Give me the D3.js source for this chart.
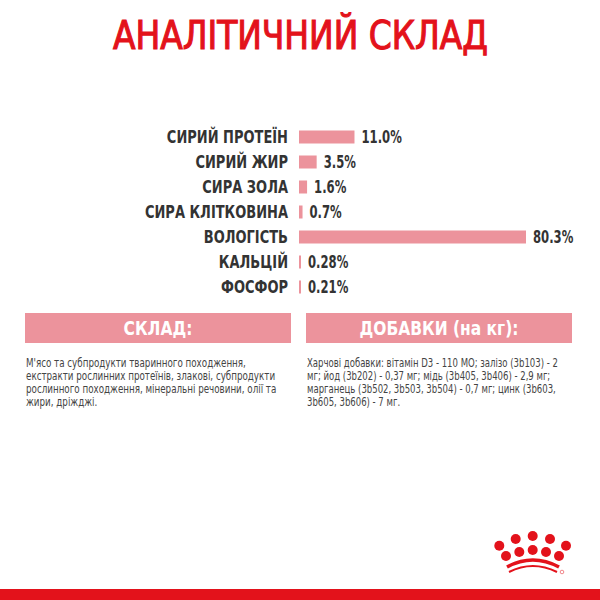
<!DOCTYPE html>
<html>
<head>
<meta charset="utf-8">
<script src="https://cdn.jsdelivr.net/npm/d3@7"></script>
<style>
  body { margin: 0; background: #fff; }
  svg { display: block; }
  .cond { font-family: "Liberation Sans Narrow", "DejaVu Sans Condensed", sans-serif; font-stretch: condensed; }
</style>
</head>
<body>
<div id="chart"></div>
<script>
// analysis values (%)
const categories = ["СИРИЙ ПРОТЕЇН", "СИРИЙ ЖИР", "СИРА ЗОЛА", "СИРА КЛІТКОВИНА", "ВОЛОГІСТЬ", "КАЛЬЦІЙ", "ФОСФОР"]
const values = [11.0, 3.5, 1.6, 0.7, 80.3, 0.28, 0.21]
const valueLabels = ["11.0%", "3.5%", "1.6%", "0.7%", "80.3%", "0.28%", "0.21%"]

const title = "АНАЛІТИЧНИЙ СКЛАД"
const boxTitles = ["СКЛАД:", "ДОБАВКИ (на кг):"]
const compositionLines = [
  "М'ясо та субпродукти тваринного походження,",
  "екстракти рослинних протеїнів, злакові, субпродукти",
  "рослинного походження, мінеральні речовини, олії та",
  "жири, дріжджі."
]
const additivesLines = [
  "Харчові добавки: вітамін D3 - 110 МО; залізо (3b103) - 2",
  "мг; йод (3b202) - 0,37 мг; мідь (3b405, 3b406) - 2,9 мг;",
  "марганець (3b502, 3b503, 3b504) - 0,7 мг; цинк (3b603,",
  "3b605, 3b606) - 7 мг."
]

const data = categories.map((c, i) => ({ name: c, value: values[i], label: valueLabels[i] }))

var width = 600, height = 600
var red = "#e3121b", pink = "#ec939c", dark = "#333"

// the installed condensed font is still wider than the original, squeeze it
function squeeze(sel, k) {
  sel.each(function () {
    var w = this.getComputedTextLength()
    d3.select(this).attr("textLength", w * k).attr("lengthAdjust", "spacingAndGlyphs")
  })
}

var svg = d3.select("#chart").append("svg")
  .attr("width", width)
  .attr("height", height)

// title
svg.append("text")
  .attr("class", "cond")
  .attr("x", 113)
  .attr("y", 49)
  .attr("textLength", 375)
  .attr("lengthAdjust", "spacingAndGlyphs")
  .style("font-size", "39px")
  .style("fill", red)
  .style("stroke", red)
  .style("stroke-width", 1.1)
  .text(title)

// bars
var barLeft = 299
var x = d3.scaleLinear()
  .domain([0, 45])
  .range([0, 227])
  .clamp(true) // moisture bar is capped in the original

var y = d3.scaleBand()
  .domain(categories)
  .range([124.5, 299.5])
  .paddingInner(0.48)
  .paddingOuter(0.24)

var g = svg.append("g").attr("transform", "translate(" + barLeft + ",0)")

g.selectAll("rect")
  .data(data)
  .enter().append("rect")
  .style("fill", pink)
  .attr("x", 0)
  .attr("y", d => y(d.name))
  .attr("width", d => Math.max(2, x(d.value)))
  .attr("height", y.bandwidth())

g.selectAll(".name")
  .data(data)
  .enter().append("text")
  .attr("class", "name cond")
  .attr("x", -11)
  .attr("y", d => y(d.name) + y.bandwidth() / 2)
  .attr("dy", ".36em")
  .attr("text-anchor", "end")
  .style("font-size", "17px")
  .style("font-weight", "bold")
  .style("fill", dark)
  .text(d => d.name)
  .call(squeeze, 0.85)

g.selectAll(".value")
  .data(data)
  .enter().append("text")
  .attr("class", "value cond")
  .attr("x", d => Math.max(2, x(d.value)) + 7)
  .attr("y", d => y(d.name) + y.bandwidth() / 2)
  .attr("dy", ".36em")
  .style("font-size", "17px")
  .style("font-weight", "bold")
  .style("fill", dark)
  .text(d => d.label)
  .call(squeeze, 0.76)

// pink header boxes + text blocks
var boxX = [25, 306], boxW = 266
var blocks = [compositionLines, additivesLines]
var blockSqueeze = [0.81, 0.79]

boxTitles.forEach(function (t, i) {
  svg.append("rect")
    .attr("x", boxX[i]).attr("y", 313)
    .attr("width", boxW).attr("height", 30)
    .style("fill", pink)
  svg.append("text")
    .attr("class", "cond")
    .attr("x", boxX[i] + boxW / 2)
    .attr("y", 335)
    .attr("text-anchor", "middle")
    .style("font-size", "20px")
    .style("font-weight", "bold")
    .style("fill", "#fff")
    .text(t)
    .call(squeeze, 0.86)
  // narrow the whole paragraph horizontally
  svg.append("g")
    .attr("transform", "translate(" + (boxX[i] + 1) + ",0) scale(" + blockSqueeze[i] + ",1)")
    .selectAll("text")
    .data(blocks[i])
    .enter().append("text")
    .attr("class", "cond")
    .attr("x", 0)
    .attr("y", (d, j) => 367.5 + j * 13)
    .style("font-size", "12px")
    .style("fill", "#444")
    .text(d => d)
})

// crown logo
var logo = svg.append("g").style("fill", red)
var dots = [[499.3, 545.7], [515.7, 539], [532.7, 536], [550, 539], [566, 545.7],
  [506, 556], [519.3, 552], [532.7, 550], [546, 552], [559, 556]]
logo.selectAll("circle")
  .data(dots)
  .enter().append("circle")
  .attr("cx", d => d[0]).attr("cy", d => d[1]).attr("r", 5)
logo.append("path")
  .attr("d", "M507,567 Q532.7,553 559,567")
  .style("fill", "none").style("stroke", red).style("stroke-width", 3.5)
logo.append("path")
  .attr("d", "M509,572 Q532.7,560 557,572")
  .style("fill", "none").style("stroke", red).style("stroke-width", 2)
logo.append("circle")
  .attr("cx", 562).attr("cy", 572).attr("r", 1.8)
  .style("fill", "none").style("stroke", red).style("stroke-width", 0.5)

// bottom red band
svg.append("rect")
  .attr("x", 0).attr("y", 589)
  .attr("width", width).attr("height", 11)
  .style("fill", red)
</script>
</body>
</html>
